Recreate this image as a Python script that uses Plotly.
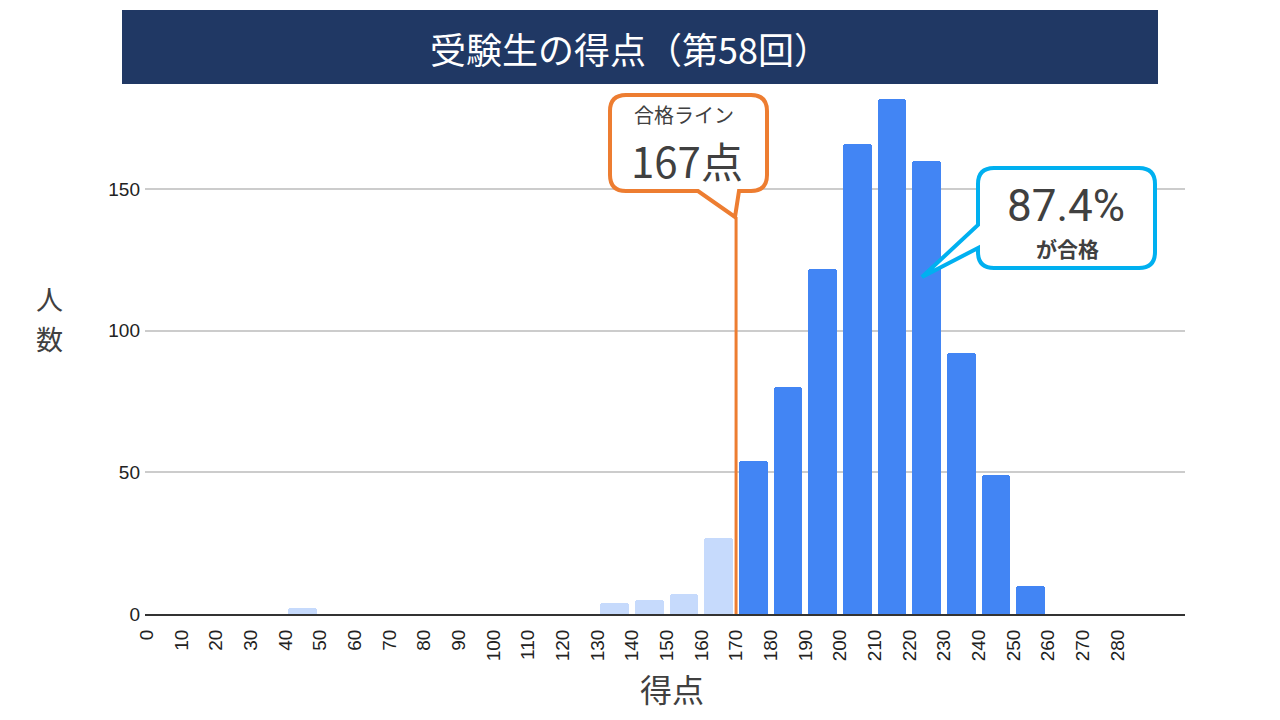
import plotly.graph_objects as go

# data (histogram of scores, 10-point bins)
bin_starts = [40, 130, 140, 150, 160, 170, 180, 190, 200, 210, 220, 230, 240, 250]
counts = [2, 4, 5, 7, 27, 54, 80, 122, 166, 182, 160, 92, 49, 10]
pass_line = 170
x_ticks = list(range(0, 290, 10))
y_ticks = [0, 50, 100, 150]

JP = "Noto Sans CJK JP"
OFF = 8                      # page body margin
W, H = 1280 - 2 * OFF, 720 - 2 * OFF
L, R, T, B = 145, 1185, 76, 614  # plot area in screen pixels


def px(x):
    return (x - L) / (R - L)


def py(y):
    return (B - y) / (B - T)


def callout(x0, y0, x1, y1, r, tail):
    # rounded box in pixels, tail points inserted on bottom or left edge
    side, pts = tail
    p = [f"M{px(x0 + r)},{py(y0)}", f"L{px(x1 - r)},{py(y0)}",
         f"Q{px(x1)},{py(y0)} {px(x1)},{py(y0 + r)}",
         f"L{px(x1)},{py(y1 - r)}", f"Q{px(x1)},{py(y1)} {px(x1 - r)},{py(y1)}"]
    if side == "bottom":
        for (a, b) in pts:
            p.append(f"L{px(a)},{py(b)}")
    p += [f"L{px(x0 + r)},{py(y1)}", f"Q{px(x0)},{py(y1)} {px(x0)},{py(y1 - r)}"]
    if side == "left":
        for (a, b) in pts:
            p.append(f"L{px(a)},{py(b)}")
    p += [f"L{px(x0)},{py(y0 + r)}", f"Q{px(x0)},{py(y0)} {px(x0 + r)},{py(y0)}", "Z"]
    return " ".join(p)


def label(x, y, text, size, color="#404040", family=JP):
    fig.add_annotation(x=px(x), y=py(y), xref="paper", yref="paper", text=text,
                       xanchor="center", yanchor="middle", showarrow=False,
                       font=dict(family=family, size=size, color=color))


centers = [s + 5 for s in bin_starts]
colors = ["#4285f4" if s >= pass_line else "#c6dafc" for s in bin_starts]

fig = go.Figure()
fig.add_bar(x=centers, y=counts, width=8.3, marker=dict(color=colors, line=dict(width=0), cornerradius=3),
            showlegend=False, hoverinfo="x+y")

# pass line
fig.add_shape(type="line", xref="x", yref="paper", x0=pass_line, x1=pass_line, y0=0, y1=py(217),
              line=dict(color="#ed7d31", width=3))

# title bar
fig.add_shape(type="rect", xref="paper", yref="paper", x0=px(122), x1=px(1158), y0=py(84), y1=py(10),
              fillcolor="#203864", line=dict(width=0), layer="above")
label(630, 48, "受験生の得点（第58回）", 36, "white")

# orange callout
fig.add_shape(type="path", xref="paper", yref="paper",
              path=callout(610, 95, 767, 191, 16, ("bottom", [(739, 191), (735, 217), (698, 191)])),
              fillcolor="white", line=dict(color="#ed7d31", width=4), layer="above")
label(684, 115, "合格ライン", 20)
label(687, 160, "167点", 42)

# blue callout
fig.add_shape(type="path", xref="paper", yref="paper",
              path=callout(978, 168, 1155, 268, 16, ("left", [(978, 248), (922, 277), (978, 225)])),
              fillcolor="white", line=dict(color="#00b0f0", width=4), layer="above")
label(1066, 206, "87.4%", 44, family="Roboto")
label(1067, 248, "<b>が合格</b>", 21)

# axis titles
label(49, 298, "人", 27)
label(49, 338, "数", 27)
label(672, 688, "得点", 32)

fig.update_layout(
    width=W, height=H,
    margin=dict(l=L - OFF, r=W - (R - OFF), t=T - OFF, b=H - (B - OFF), pad=0),
    plot_bgcolor="white", paper_bgcolor="white",
    bargap=0,
    xaxis=dict(range=[-0.5, 299.5], tickvals=x_ticks, ticktext=[str(v) for v in x_ticks],
               tickangle=-90, showgrid=False, zeroline=False, showline=True, linecolor="#333333", linewidth=2,
               tickfont=dict(family="Liberation Sans", size=19, color="#222222"), ticks="",
               ticklabelstandoff=6),
    yaxis=dict(range=[0, 190], tickvals=y_ticks, showgrid=True, gridcolor="#cccccc", gridwidth=1.5,
               zeroline=False, ticks="", ticklabelstandoff=4,
               tickfont=dict(family="Liberation Sans", size=19, color="#222222")),
)

fig.write_html("out.html")
